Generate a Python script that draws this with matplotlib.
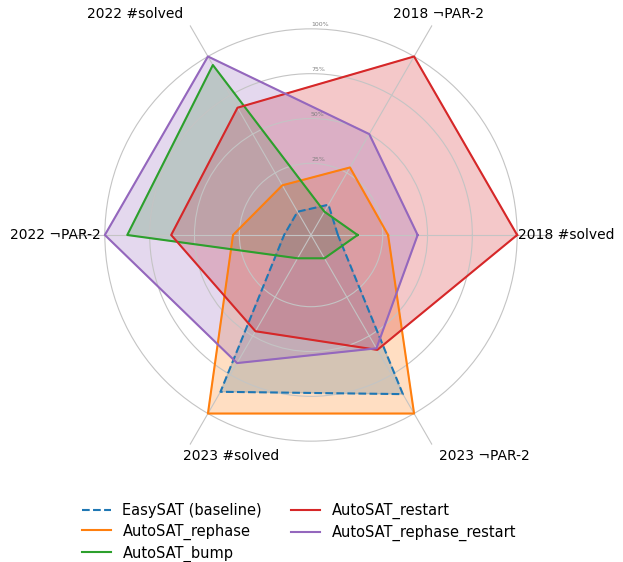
import numpy as np
import matplotlib.pyplot as plt

categories = ['2018 #solved', '2018 ¬PAR-2', '2022 #solved',
              '2022 ¬PAR-2', '2023 #solved', '2023 ¬PAR-2']
easysat = [0, 4.5, 0, 0, 86, 87.5]
rephase = [28, 28.5, 17, 28.5, 100, 100]
bump = [11, 0, 94.5, 87.5, 0, 0]
restart = [100, 100, 67, 63, 47, 59]
rephase_restart = [44.5, 50, 100, 100, 67.5, 58]
rticks = [25, 50, 75, 100]

series = [
    ('EasySAT (baseline)', easysat, '#1f77b4', '--'),
    ('AutoSAT_rephase', rephase, '#ff7f0e', '-'),
    ('AutoSAT_bump', bump, '#2ca02c', '-'),
    ('AutoSAT_restart', restart, '#d62728', '-'),
    ('AutoSAT_rephase_restart', rephase_restart, '#9467bd', '-'),
]

angles = np.linspace(0, 2 * np.pi, len(categories), endpoint=False)
closed = np.concatenate([angles, angles[:1]])

fig = plt.figure(figsize=(6.23, 5.62), dpi=100)
ax = fig.add_axes([69 / 623, 85 / 562, 484 / 623, 484 / 562], projection='polar')

for name, vals, color, ls in series:
    v = list(vals) + [vals[0]]
    ax.plot(closed, v, color=color, lw=1.5, ls=ls, label=name)
    ax.fill(closed, v, color=color, alpha=0.25)

ax.set_ylim(-15, 120)
ax.spines['polar'].set_visible(False)
ax.set_xticks(angles, categories, fontsize=10)
ax.tick_params(axis='x', pad=-1)
# label alignment as in the original figure
for lbl, ha in zip(ax.get_xticklabels(), ['center', 'center', 'right', 'center', 'left', 'left']):
    lbl.set_horizontalalignment(ha)
ax.set_yticks(rticks)
ax.set_yticklabels([])
ax.grid(color='#c4c4c4', lw=0.8)
for t in rticks:
    ax.text(np.pi / 2, t + 1, f'{t}%', ha='left', va='bottom', fontsize=4.5, color='gray')

fig.legend(loc='center', bbox_to_anchor=(0.48, 0.053), ncol=2, frameon=False,
           fontsize=10.5, labelspacing=0.4)

fig.savefig('out.png', dpi=100)
